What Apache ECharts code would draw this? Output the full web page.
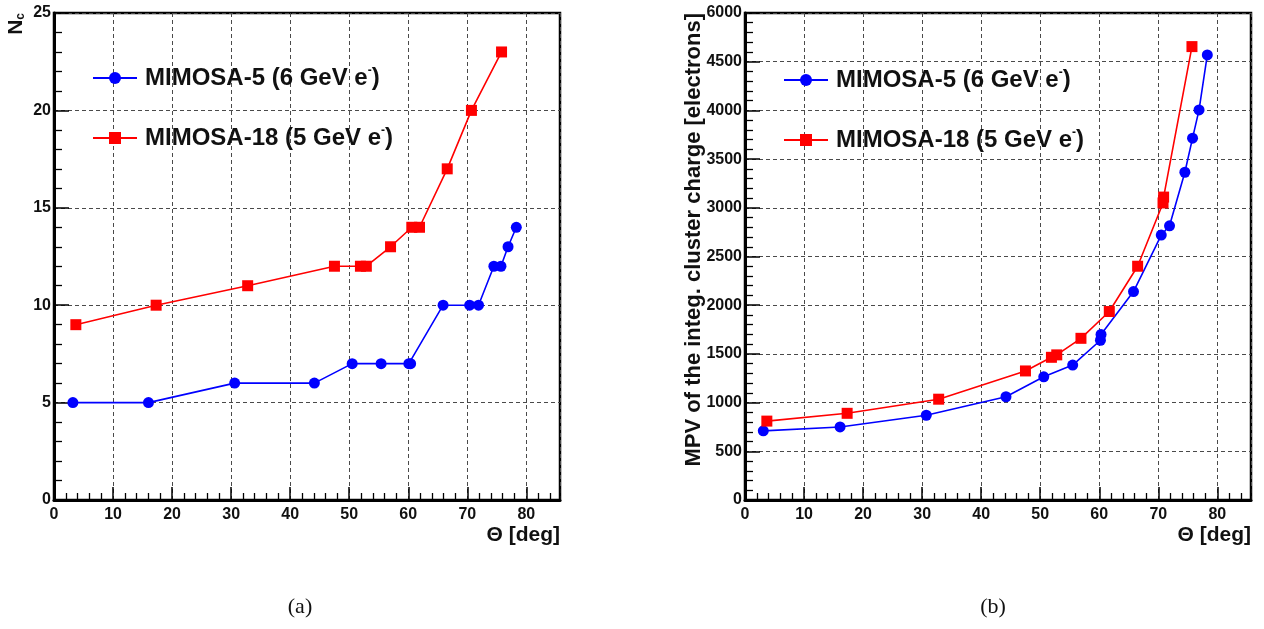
<!DOCTYPE html>
<html>
<head>
<meta charset="utf-8">
<script src="https://cdn.jsdelivr.net/npm/echarts@6/dist/echarts.min.js"></script>
<style>
html, body { margin: 0; padding: 0; background: #fff; }
#chart { width: 1264px; height: 629px; }
</style>
</head>
<body>
<div id="chart"></div>
<script>
// Panel (a): cluster multiplicity N_c versus incidence angle
const nMimosa5Theta = [3.2, 16.0, 30.6, 44.1, 50.5, 55.4, 60.1, 60.4, 65.9, 70.4, 71.9, 74.5, 75.7, 76.9, 78.3];
const nMimosa5 = [5, 5, 6, 6, 7, 7, 7, 7, 10, 10, 10, 12, 12, 13, 14];
const nMimosa18Theta = [3.7, 17.3, 32.8, 47.5, 51.9, 52.9, 57.0, 60.6, 61.9, 66.6, 70.7, 75.8];
const nMimosa18 = [9, 10, 11, 12, 12, 12, 13, 14, 14, 17, 20, 23];

// Panel (b): MPV of the integrated cluster charge versus incidence angle
const qMimosa5Theta = [3.1, 16.1, 30.7, 44.2, 50.6, 55.5, 60.2, 60.3, 65.8, 70.5, 71.9, 74.5, 75.8, 76.9, 78.3];
const qMimosa5 = [710, 750, 870, 1060, 1265, 1385, 1640, 1700, 2140, 2720, 2815, 3365, 3715, 4005, 4570];
const qMimosa18Theta = [3.7, 17.3, 32.8, 47.5, 51.9, 52.8, 56.9, 61.7, 66.5, 70.8, 70.9, 75.7];
const qMimosa18 = [810, 890, 1035, 1325, 1465, 1490, 1660, 1935, 2400, 3050, 3110, 4655];

// Tick labels
const thetaTicks = ['0', '10', '20', '30', '40', '50', '60', '70', '80'];
const nTicks = ['0', '5', '10', '15', '20', '25'];
const qTicks = ['0', '500', '1000', '1500', '2000', '2500', '3000', '3500', '4000', '4500', '6000'];

const seriesNames = ['MIMOSA-5 (6 GeV e-)', 'MIMOSA-18 (5 GeV e-)'];
const BLUE = '#0000ff';
const RED = '#ff0000';
const FONT = '"Liberation Sans", Arial, Helvetica, sans-serif';

function pairs(xs, ys) { return xs.map((x, i) => [x, ys[i]]); }

function tickFormatter(labels, step) {
  return function (v) {
    const k = Math.round(v / step);
    if (Math.abs(v - k * step) > 1e-6) return '';
    return labels[k] !== undefined ? labels[k] : '';
  };
}

function xAxisFor(gridIndex) {
  return {
    type: 'value', gridIndex: gridIndex, min: 0, max: 85.7, interval: 10,
    axisLine: { show: true, onZero: false, lineStyle: { color: '#000', width: 3 } },
    axisTick: { show: true, inside: true, length: 13, lineStyle: { color: '#000', width: 1.5 } },
    minorTick: { show: true, splitNumber: 5, length: 7, lineStyle: { color: '#000', width: 1.3 } },
    splitLine: { show: true, lineStyle: { color: '#4a4a4a', width: 1, type: [4, 3] } },
    axisLabel: {
      margin: 7, color: '#111', fontFamily: FONT, fontWeight: 'bold', fontSize: 16,
      formatter: tickFormatter(thetaTicks, 10), showMaxLabel: false
    }
  };
}

function yAxisFor(gridIndex, max, step, labels) {
  return {
    type: 'value', gridIndex: gridIndex, min: 0, max: max, interval: step,
    axisLine: { show: true, onZero: false, lineStyle: { color: '#000', width: 3 } },
    axisTick: { show: true, inside: true, length: 15, lineStyle: { color: '#000', width: 1.5 } },
    minorTick: { show: true, splitNumber: 5, length: 8, lineStyle: { color: '#000', width: 1.3 } },
    splitLine: { show: true, lineStyle: { color: '#4a4a4a', width: 1, type: [4, 3] } },
    axisLabel: {
      margin: 3, color: '#111', fontFamily: FONT, fontWeight: 'bold', fontSize: 16,
      formatter: tickFormatter(labels, step)
    }
  };
}

function lineSeries(name, color, symbol, size, xi, data) {
  return {
    type: 'line', name: name, xAxisIndex: xi, yAxisIndex: xi, data: data,
    symbol: symbol, symbolSize: size, showAllSymbol: true,
    lineStyle: { color: color, width: 1.6 },
    itemStyle: { color: color },
    emphasis: { disabled: true }
  };
}

const legendRich = {
  t: { fontFamily: FONT, fontWeight: 'bold', fontSize: 24, color: '#111', lineHeight: 26 },
  s: { fontFamily: FONT, fontWeight: 'bold', fontSize: 12, color: '#111', lineHeight: 26, verticalAlign: 'top' }
};
function legendText(name) {
  const base = name.slice(0, -2);
  return '{t|' + base + '}{s|-}{t|)}';
}
function legendAt(left, top) {
  return {
    orient: 'vertical', left: left, top: top, padding: 0,
    itemWidth: 44, itemHeight: 15, itemGap: 35,
    data: seriesNames, selectedMode: false,
    formatter: legendText,
    textStyle: { rich: legendRich, padding: [0, 0, 0, 3] }
  };
}

const chart = echarts.init(document.getElementById('chart'), null, { renderer: 'canvas' });
chart.setOption({
  animation: false,
  backgroundColor: '#fff',
  grid: [
    { left: 54, top: 13, width: 506, height: 487, show: true, borderColor: '#000', borderWidth: 2.5, containLabel: false },
    { left: 745, top: 13, width: 506, height: 487, show: true, borderColor: '#000', borderWidth: 2.5, containLabel: false }
  ],
  xAxis: [xAxisFor(0), xAxisFor(1)],
  yAxis: [yAxisFor(0, 25, 5, nTicks), yAxisFor(1, 5000, 500, qTicks)],
  legend: [legendAt(92, 65), legendAt(783, 67)],
  series: [
    lineSeries(seriesNames[0], BLUE, 'circle', 11, 0, pairs(nMimosa5Theta, nMimosa5)),
    lineSeries(seriesNames[1], RED, 'rect', 11, 0, pairs(nMimosa18Theta, nMimosa18)),
    lineSeries(seriesNames[0], BLUE, 'circle', 11, 1, pairs(qMimosa5Theta, qMimosa5)),
    lineSeries(seriesNames[1], RED, 'rect', 11, 1, pairs(qMimosa18Theta, qMimosa18))
  ],
  graphic: [
    { type: 'text', x: 560, y: 535, style: { text: 'Θ [deg]', font: 'bold 21px ' + FONT, fill: '#111', align: 'right', verticalAlign: 'middle' } },
    { type: 'text', x: 1251, y: 535, style: { text: 'Θ [deg]', font: 'bold 21px ' + FONT, fill: '#111', align: 'right', verticalAlign: 'middle' } },
    {
      type: 'text', x: 16, y: 13, rotation: Math.PI / 2,
      style: {
        text: '{n|N}{c|c}', align: 'right', verticalAlign: 'middle',
        rich: {
          n: { font: 'bold 21px ' + FONT, fill: '#111', lineHeight: 22 },
          c: { font: 'bold 12px ' + FONT, fill: '#111', lineHeight: 22, verticalAlign: 'bottom' }
        }
      }
    },
    {
      type: 'text', x: 694, y: 13, rotation: Math.PI / 2,
      style: { text: 'MPV of the integ. cluster charge [electrons]', font: 'bold 22px ' + FONT, fill: '#111', align: 'right', verticalAlign: 'middle' }
    },
    { type: 'text', x: 300, y: 607, style: { text: '(a)', font: '22px "Liberation Serif", "DejaVu Serif", serif', fill: '#111', align: 'center', verticalAlign: 'middle' } },
    { type: 'text', x: 993, y: 607, style: { text: '(b)', font: '22px "Liberation Serif", "DejaVu Serif", serif', fill: '#111', align: 'center', verticalAlign: 'middle' } }
  ]
});
</script>
</body>
</html>
